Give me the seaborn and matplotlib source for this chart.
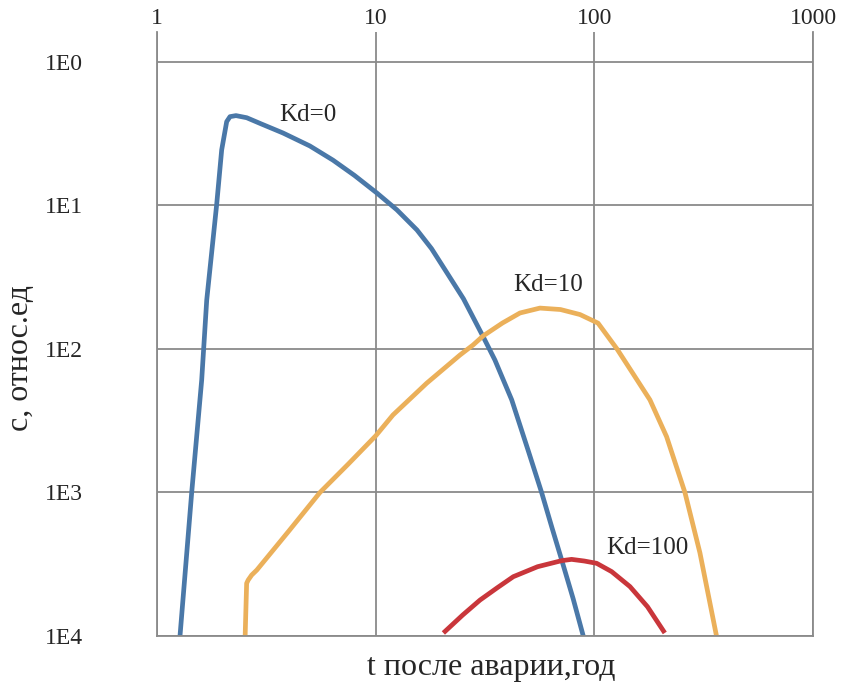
import matplotlib
matplotlib.use("Agg")
import matplotlib.pyplot as plt
import seaborn as sns
import pandas as pd

# ---- data ----
t_kd0 = [1.274, 1.441, 1.601, 1.688, 1.875, 1.976, 2.083, 2.157, 2.297, 2.571, 3.0, 3.77,
         5.0, 6.38, 8.0, 10.14, 12.5, 15.45, 18.0, 21.2, 25.2, 31.0, 35.1, 41.9, 50.0,
         57.4, 64.0, 70.9, 80.0, 89.0]
c_kd0 = [1.0e-4, 1.0e-3, 6.08e-3, 0.0219, 0.102, 0.244, 0.384, 0.416, 0.423, 0.409, 0.370, 0.320,
         0.260, 0.207, 0.162, 0.122, 0.0933, 0.0675, 0.0501, 0.0339, 0.0224, 0.0122, 8.38e-3,
         4.42e-3, 1.93e-3, 1.0e-3, 5.69e-4, 3.39e-4, 1.82e-4, 1.0e-4]

t_kd10 = [2.53, 2.57, 2.61, 2.71, 2.86, 4.0, 5.56, 7.5, 10.0, 12.0, 17.1, 24.3, 27.9, 31.0,
          38.0, 45.7, 56.4, 70.0, 86.0, 104.0, 127.0, 150.0, 179.6, 214.0, 259.6, 304.0, 362.0]
c_kd10 = [1.0e-4, 2.33e-4, 2.45e-4, 2.66e-4, 2.88e-4, 5.37e-4, 1.0e-3, 1.58e-3, 2.48e-3, 3.47e-3,
          5.77e-3, 9.08e-3, 0.01067, 0.01233, 0.01517, 0.01782, 0.01928, 0.01884, 0.01738,
          0.01514, 0.0100, 6.76e-3, 4.42e-3, 2.45e-3, 1.0e-3, 3.80e-4, 1.0e-4]

t_kd100 = [20.4, 25.0, 30.0, 36.0, 42.6, 55.0, 70.9, 78.7, 90.0, 102.5, 120.0, 145.5, 175.0, 210.0]
c_kd100 = [1.05e-4, 1.40e-4, 1.78e-4, 2.17e-4, 2.59e-4, 3.04e-4, 3.35e-4, 3.42e-4, 3.33e-4,
           3.21e-4, 2.81e-4, 2.21e-4, 1.60e-4, 1.05e-4]

series_names = ["Kd=0", "Kd=10", "Kd=100"]
series_colors = ["#4a78a8", "#ebb05a", "#c9363b"]
label_t = [4.9, 61.4, 174.0]
label_c = [0.427, 0.0279, 4.1e-4]

x_ticks = [1, 10, 100, 1000]
x_ticklabels = ["1", "10", "100", "1000"]
y_ticks = [1, 1e-1, 1e-2, 1e-3, 1e-4]
y_ticklabels = ["1E0", "1E1", "1E2", "1E3", "1E4"]

x_label = "t после аварии,год"
y_label = "с, относ.ед"

# ---- build table ----
frames = []
for name, t, c in zip(series_names, [t_kd0, t_kd10, t_kd100], [c_kd0, c_kd10, c_kd100]):
    frames.append(pd.DataFrame({"t": t, "c": c, "Kd": name}))
df = pd.concat(frames, ignore_index=True)

sns.set_style("white")
plt.rcParams["font.family"] = ["Liberation Serif", "DejaVu Serif"]

W, H = 844, 684
fig = plt.figure(figsize=(W / 100, H / 100), dpi=100)
left, right, top, bottom = 157, 813, 32, 636
ax = fig.add_axes([left / W, 1 - bottom / H, (right - left) / W, (bottom - top) / H])

sns.lineplot(data=df, x="t", y="c", hue="Kd", palette=dict(zip(series_names, series_colors)),
             sort=False, estimator=None, legend=False, linewidth=3.4, ax=ax,
             solid_joinstyle="round", solid_capstyle="butt")

ax.set_xscale("log")
ax.set_yscale("log")
ax.set_xlim(1, 1000)
ax.set_ylim(1e-4, 10 ** 0.209)

ax.xaxis.tick_top()
ax.set_xticks(x_ticks)
ax.set_xticklabels(x_ticklabels)
ax.set_yticks(y_ticks)
ax.set_yticklabels(y_ticklabels)
ax.minorticks_off()
ax.tick_params(axis="x", which="both", length=0, pad=2, labelsize=17, top=True, bottom=False)
ax.tick_params(axis="y", which="both", length=0, pad=53, labelsize=17)

ax.grid(True, color="#8a8a8a", linewidth=1.3)
ax.spines["top"].set_visible(False)
for s in ["left", "right", "bottom"]:
    ax.spines[s].set_color("#8a8a8a")
    ax.spines[s].set_linewidth(1.3)

ax.set_xlabel(x_label, fontsize=23)
ax.xaxis.set_label_position("bottom")
ax.xaxis.set_label_coords((491 - left) / (right - left), (bottom - 668) / (bottom - top))
ax.xaxis.label.set_verticalalignment("center")

ax.set_ylabel(y_label, fontsize=23)
ax.yaxis.set_label_coords((21 - left) / (right - left), (bottom - 358) / (bottom - top))
ax.yaxis.label.set_verticalalignment("center")

for name, tx, cy in zip(series_names, label_t, label_c):
    ax.text(tx, cy, name, fontsize=18, ha="center", va="center")

fig.savefig("out.png", dpi=100)
